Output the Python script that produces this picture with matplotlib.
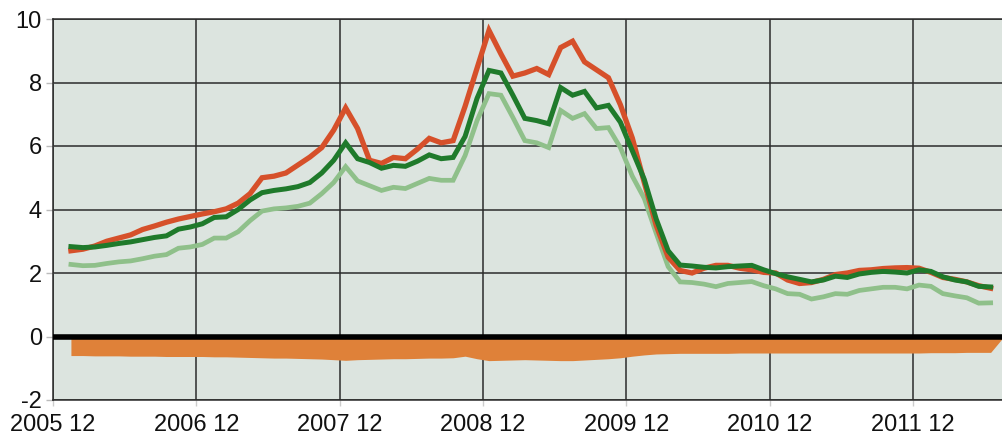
import matplotlib
matplotlib.use("Agg")
import matplotlib.pyplot as plt
import numpy as np

# Monthly observations, 2006-01 .. 2012-06
months = [f"{y}-{m:02d}" for y in range(2006, 2013) for m in range(1, 13)][:78]

red = [2.70, 2.75, 2.85, 3.00, 3.10, 3.20, 3.37, 3.48, 3.60, 3.70, 3.78, 3.86,
       3.93, 4.02, 4.20, 4.50, 5.00, 5.05, 5.15, 5.40, 5.65, 5.95, 6.50, 7.20,
       6.55, 5.55, 5.45, 5.64, 5.60, 5.90, 6.24, 6.10, 6.17, 7.25, 8.45, 9.64,
       8.90, 8.20, 8.30, 8.44, 8.25, 9.10, 9.30, 8.65, 8.40, 8.15, 7.30, 6.25,
       4.85, 3.50, 2.50, 2.08, 2.00, 2.15, 2.24, 2.24, 2.15, 2.10, 2.02, 2.00,
       1.78, 1.67, 1.70, 1.80, 1.95, 2.00, 2.08, 2.10, 2.14, 2.16, 2.17, 2.15,
       2.02, 1.86, 1.80, 1.72, 1.60, 1.52]

dark_green = [2.83, 2.80, 2.82, 2.87, 2.93, 2.98, 3.05, 3.12, 3.17, 3.38, 3.45, 3.55,
              3.75, 3.77, 4.00, 4.30, 4.53, 4.60, 4.65, 4.72, 4.85, 5.15, 5.55, 6.10,
              5.60, 5.48, 5.30, 5.39, 5.36, 5.52, 5.72, 5.60, 5.64, 6.30, 7.50, 8.38,
              8.30, 7.60, 6.87, 6.80, 6.70, 7.84, 7.60, 7.72, 7.20, 7.28, 6.75, 5.85,
              4.95, 3.70, 2.70, 2.25, 2.22, 2.18, 2.16, 2.20, 2.22, 2.24, 2.10, 1.98,
              1.88, 1.80, 1.72, 1.78, 1.90, 1.86, 1.97, 2.02, 2.05, 2.03, 2.00, 2.10,
              2.05, 1.88, 1.78, 1.72, 1.58, 1.56]

light_green = [2.27, 2.23, 2.24, 2.30, 2.35, 2.38, 2.45, 2.53, 2.58, 2.78, 2.82, 2.90,
               3.10, 3.10, 3.30, 3.65, 3.95, 4.02, 4.05, 4.10, 4.20, 4.50, 4.85, 5.35,
               4.90, 4.75, 4.60, 4.70, 4.66, 4.82, 4.98, 4.92, 4.92, 5.70, 6.80, 7.65,
               7.60, 6.90, 6.17, 6.10, 5.95, 7.12, 6.87, 7.02, 6.55, 6.58, 5.95, 5.05,
               4.35, 3.25, 2.20, 1.72, 1.70, 1.65, 1.57, 1.67, 1.70, 1.73, 1.60, 1.50,
               1.35, 1.33, 1.18, 1.25, 1.35, 1.33, 1.45, 1.50, 1.55, 1.55, 1.50, 1.62,
               1.58, 1.35, 1.28, 1.22, 1.05, 1.06]

# Orange area (one extra month, 2012-07)
orange = [-0.60, -0.60, -0.61, -0.61, -0.61, -0.62, -0.62, -0.62, -0.63, -0.63, -0.63, -0.63,
          -0.64, -0.64, -0.65, -0.66, -0.67, -0.68, -0.68, -0.69, -0.70, -0.71, -0.73, -0.75,
          -0.73, -0.72, -0.71, -0.70, -0.70, -0.69, -0.68, -0.68, -0.67, -0.62, -0.70, -0.76,
          -0.75, -0.74, -0.73, -0.74, -0.75, -0.76, -0.76, -0.74, -0.72, -0.70, -0.67, -0.62,
          -0.58, -0.55, -0.54, -0.53, -0.53, -0.53, -0.53, -0.53, -0.52, -0.52, -0.52, -0.52,
          -0.52, -0.52, -0.52, -0.52, -0.52, -0.52, -0.52, -0.52, -0.52, -0.52, -0.52, -0.52,
          -0.51, -0.51, -0.51, -0.50, -0.50, -0.50, -0.05]

tick_labels = ["2005 12", "2006 12", "2007 12", "2008 12", "2009 12", "2010 12", "2011 12"]
y_ticks = [-2, 0, 2, 4, 6, 8, 10]

plt.rcParams['font.family'] = ['Liberation Sans', 'DejaVu Sans']

fig = plt.figure(figsize=(10.02, 4.42), dpi=100)
ax = fig.add_axes([53 / 1002, 42 / 442, (1002 - 53) / 1002, 381 / 442])
ax.set_facecolor('#dce4df')

# x position: months since start of Dec 2005, points at mid-month
x = np.arange(len(red)) + 1.5
xo = np.arange(len(orange)) + 1.5

ax.fill_between(xo, 0, orange, color='#df8139', linewidth=0, zorder=2)
ax.axhline(0, color='black', linewidth=4.0, zorder=3)
ax.plot(x, light_green, color='#8fc08a', linewidth=3.4, zorder=4, solid_joinstyle='miter')
ax.plot(x, red, color='#d6502a', linewidth=3.8, zorder=5, solid_joinstyle='miter')
ax.plot(x, dark_green, color='#1f7a2b', linewidth=3.6, zorder=6, solid_joinstyle='miter')

ax.set_xlim(0, 79.45)
ax.set_ylim(-2, 10)
ax.set_xticks(np.arange(len(tick_labels)) * 12)
ax.set_xticklabels(tick_labels)
ax.set_yticks(y_ticks)
ax.set_yticklabels([str(v) for v in y_ticks])

ax.grid(True, color='#2b2b2b', linewidth=1.1, zorder=1)
ax.set_axisbelow(True)

for s in ['right']:
    ax.spines[s].set_visible(False)
for s in ['top', 'bottom', 'left']:
    ax.spines[s].set_color('#2b2b2b')
    ax.spines[s].set_linewidth(1.1)

ax.tick_params(axis='y', length=5, width=1, color='#bbbbbb', labelsize=17, pad=3)
ax.tick_params(axis='x', length=4, width=1, color='#cccccc', labelsize=17, pad=6)
for lab in ax.get_xticklabels() + ax.get_yticklabels():
    lab.set_color('#111111')

fig.savefig('out.png', dpi=100)
